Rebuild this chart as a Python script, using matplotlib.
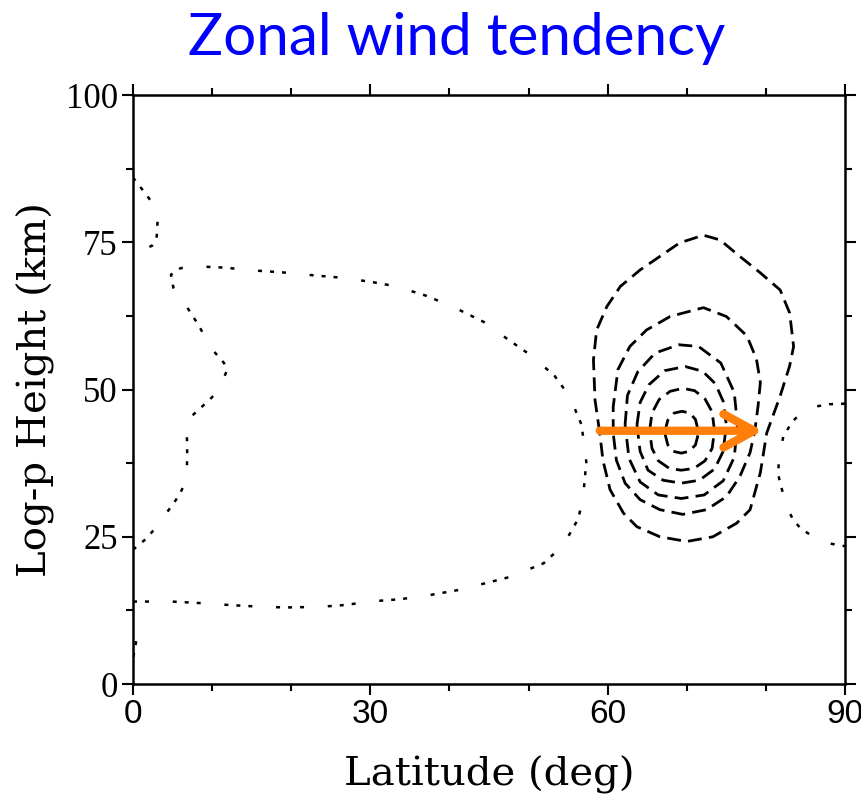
import matplotlib
matplotlib.use("Agg")
import matplotlib.pyplot as plt

# contour lines: (latitude, log-p height)
# dotted = weak easterly tendency, dashed = westward forcing cell
dot_top_lat = [0.0, 0.5, 1.5, 2.65, 3.1, 3.0, 2.4, 0.7, 0.0]
dot_top_z = [86.0, 85.1, 83.4, 81.3, 78.5, 76.0, 74.4, 73.5, 73.4]

dot_big_lat = [0.0, 1.7, 2.9, 5.3, 6.0, 6.8, 6.85, 6.8, 7.1, 9.7, 10.8, 11.8, 11.5,
               9.95, 9.2, 8.25, 6.15, 5.1, 4.8, 6.0, 8.25, 11.5, 15.4, 18.8, 22.7,
               26.2, 30.0, 33.3, 37.1, 40.5, 44.3, 47.4, 50.4, 53.3, 55.2, 56.7,
               57.3, 56.9, 56.3, 54.4, 51.9, 47.7, 41.3, 37.5, 33.8, 30.8, 26.6,
               23.6, 19.4, 16.5, 12.3, 9.1, 4.9, 1.5, 0.0]
dot_big_z = [22.8, 24.7, 26.6, 31.0, 32.5, 34.8, 40.4, 42.3, 45.1, 48.3, 49.8, 53.0, 54.5,
             56.9, 58.7, 61.0, 65.4, 67.3, 69.5, 70.6, 70.9, 70.7, 70.2, 69.9, 69.4,
             69.0, 68.3, 67.5, 65.9, 64.0, 61.5, 58.5, 55.7, 52.3, 48.8, 44.0,
             37.7, 31.8, 28.1, 23.6, 20.5, 18.2, 16.0, 15.1, 14.4, 14.1, 13.4,
             13.1, 13.0, 13.1, 13.4, 13.7, 14.0, 14.0, 14.0]

dot_low_lat = [0.05, 0.5]
dot_low_z = [4.6, 8.0]

dot_right_lat = [90.0, 88.0, 85.8, 84.3, 83.3, 82.2, 81.8, 81.6, 81.6, 82.6, 83.5,
                 84.4, 86.0, 87.9, 90.0]
dot_right_z = [47.6, 47.5, 47.0, 45.8, 44.5, 42.0, 39.5, 37.1, 35.3, 30.0, 27.8,
               26.4, 25.0, 23.9, 23.4]

dash_1_lat = [59.0, 58.4, 58.2, 58.6, 59.9, 61.6, 64.1, 66.6, 69.1, 72.1, 74.2, 76.7,
              79.3, 81.8, 83.0, 83.5, 83.0, 81.8, 80.1, 79.3, 78.0, 76.3, 73.3,
              70.0, 66.6, 63.7, 62.0, 60.3, 59.4, 59.0]
dash_1_z = [42.6, 48.2, 55.0, 60.1, 64.1, 67.5, 70.3, 72.6, 74.9, 76.2, 75.4, 72.6,
            69.8, 66.9, 63.0, 57.3, 54.0, 48.9, 42.6, 35.9, 29.6, 27.3, 25.0,
            24.2, 25.0, 26.7, 29.0, 33.0, 38.0, 42.6]

dash_2_lat = [60.7, 60.7, 61.3, 62.8, 64.9, 67.9, 72.1, 75.0, 77.6, 78.8, 79.3, 79.0,
              78.6, 78.0, 76.7, 75.0, 72.5, 69.5, 66.6, 64.1, 62.2, 61.1, 60.7]
dash_2_z = [42.6, 47.1, 53.4, 57.3, 60.1, 62.4, 63.9, 62.4, 59.1, 55.2, 51.2, 47.1,
            43.0, 39.3, 35.2, 31.8, 29.6, 28.8, 29.6, 31.3, 34.1, 38.0, 42.6]

dash_3_lat = [62.2, 62.5, 63.8, 66.0, 69.0, 71.5, 74.3, 76.0, 76.4, 76.0, 74.6, 72.2,
              69.3, 66.4, 64.1, 62.7, 62.2]
dash_3_z = [44.0, 49.0, 53.0, 56.2, 57.6, 57.3, 54.5, 49.5, 44.0, 38.5, 34.5, 32.1,
            31.5, 32.1, 34.3, 38.3, 44.0]

dash_4_lat = [63.7, 64.1, 65.2, 67.2, 69.8, 72.0, 73.6, 74.6, 75.0, 74.6, 73.5, 71.6,
              69.3, 67.0, 65.1, 64.1, 63.7]
dash_4_z = [44.0, 47.8, 50.8, 53.2, 53.9, 53.1, 51.0, 48.0, 44.0, 39.5, 36.5, 34.6,
            34.1, 34.6, 36.3, 39.5, 44.0]

dash_5_lat = [65.3, 65.6, 66.5, 67.9, 69.5, 71.0, 72.3, 73.2, 73.5, 73.2, 72.3, 70.9,
              69.3, 67.8, 66.4, 65.6, 65.3]
dash_5_z = [43.0, 46.0, 48.3, 49.7, 50.2, 49.8, 48.4, 46.2, 43.0, 40.0, 37.9, 36.6,
            36.3, 36.6, 37.9, 40.0, 43.0]

dash_6_lat = [67.2, 67.6, 68.4, 69.4, 70.4, 71.1, 71.5, 71.1, 70.3, 69.3, 68.3, 67.6, 67.2]
dash_6_z = [42.7, 44.8, 46.0, 46.3, 46.0, 44.9, 42.7, 40.6, 39.5, 39.2, 39.5, 40.6, 42.7]

arrow_start = (59.0, 43.0)
arrow_end = (79.6, 43.0)

x_major = [0, 30, 60, 90]
x_minor = [10, 20, 40, 50, 70, 80]
y_major = [0, 25, 50, 75, 100]
y_minor = [12.5, 37.5, 62.5, 87.5]

fig = plt.figure(figsize=(8.62, 7.99), dpi=100)
ax = fig.add_axes([0.1543, 0.1439, 0.8260, 0.7372])

dotted = (0, (1.6, 3.2, 1.6, 3.2, 1.6, 9.5))
dashed = (0, (5.0, 2.6))

for lat, z in [(dot_top_lat, dot_top_z), (dot_big_lat, dot_big_z),
               (dot_low_lat, dot_low_z), (dot_right_lat, dot_right_z)]:
    ax.plot(lat, z, color="black", lw=1.8, linestyle=dotted)

for lat, z in [(dash_1_lat, dash_1_z), (dash_2_lat, dash_2_z), (dash_3_lat, dash_3_z),
               (dash_4_lat, dash_4_z), (dash_5_lat, dash_5_z), (dash_6_lat, dash_6_z)]:
    ax.plot(lat, z, color="black", lw=2.0, linestyle=dashed)

ax.annotate("", xy=arrow_end, xytext=arrow_start,
            arrowprops=dict(arrowstyle="->,head_length=2.2,head_width=1.2",
                            color="#FF7F0A", lw=6, shrinkA=0, shrinkB=0))

ax.set_xlim(0, 90)
ax.set_ylim(0, 100)
ax.set_xticks(x_major)
ax.set_xticks(x_minor, minor=True)
ax.set_yticks(y_major)
ax.set_yticks(y_minor, minor=True)
ax.set_xticklabels([str(v) for v in x_major], fontfamily="Liberation Sans", fontsize=24)
ax.set_yticklabels([str(v) for v in y_major], fontfamily="Liberation Serif", fontsize=25)
ax.tick_params(which="both", direction="out", top=True, right=True, width=1.5)
ax.tick_params(which="major", length=8, pad=3)
ax.tick_params(which="minor", length=5)
for s in ax.spines.values():
    s.set_linewidth(1.8)

fig.text(0.530, 0.952, "Zonal wind tendency", color="#0000FF", fontsize=42,
         fontfamily="Lato", ha="center", va="center")
fig.text(0.042, 0.512, "Log-p Height (km)", rotation=90, fontsize=29,
         fontfamily="DejaVu Serif", ha="center", va="center")
fig.text(0.568, 0.030, "Latitude (deg)", fontsize=29,
         fontfamily="DejaVu Serif", ha="center", va="center")

fig.savefig("out.png", dpi=100)
